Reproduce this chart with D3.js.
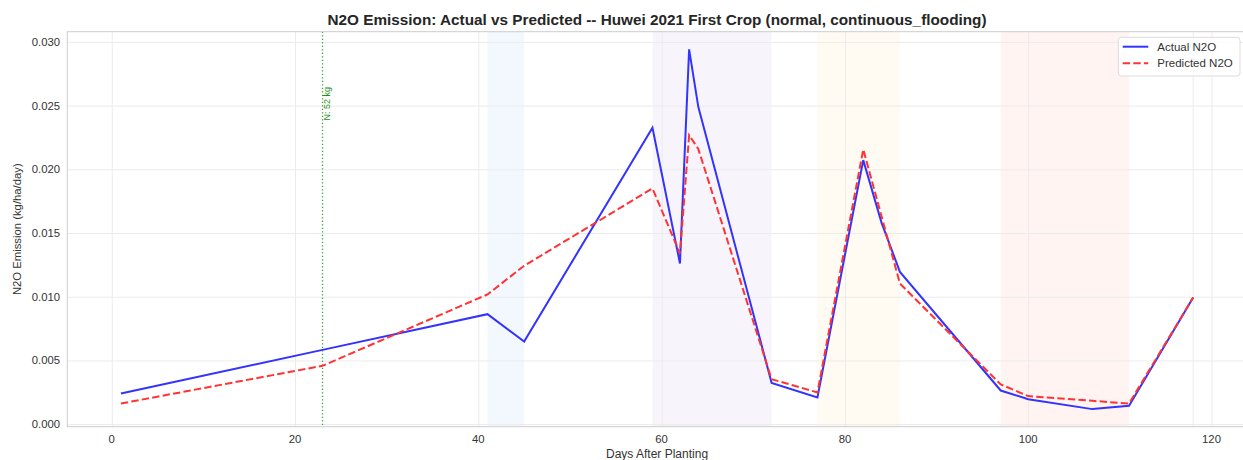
<!DOCTYPE html>
<html>
<head>
<meta charset="utf-8">
<script src="https://cdn.jsdelivr.net/npm/d3@7"></script>
<style>
  body { margin: 0; background: #fff; }
  svg { display: block; font-family: "Liberation Sans", Arial, sans-serif; }
</style>
</head>
<body>
<div id="chart"></div>
<script>
// data
var days      = [1, 23, 41, 45, 59, 62, 63, 64, 72, 77, 82, 84, 86, 97, 100, 107, 111, 118];
var actual    = [0.00241, 0.00583, 0.00863, 0.00649, 0.02326, 0.01261, 0.02941, 0.0249, 0.00324, 0.0021,
                 0.02072, 0.0158, 0.01195, 0.00264, 0.00196, 0.00118, 0.00144, 0.00994];
var predicted = [0.00162, 0.00458, 0.01018, 0.01243, 0.0185, 0.0134, 0.02268, 0.0216, 0.00353, 0.00249,
                 0.02156, 0.0163, 0.01104, 0.00312, 0.0022, 0.00183, 0.00162, 0.00994];
var stageStart = [41, 59, 77, 97];
var stageEnd   = [45, 72, 86, 111];
var stageColor = ["#f2f8fd", "#f7f5fb", "#fffaf2", "#fff4f2"];
var fertDay = 23, fertLabel = "N: 52 kg";
var endDay = 118;
var xTicks = [0, 20, 40, 60, 80, 100, 120];
var yTicks = [0, 0.005, 0.01, 0.015, 0.02, 0.025, 0.03];

var width = 1243, height = 460;
var margin = {top: 31.7, left: 67.3, bottom: 426.7, right: 1246.8};

var x = d3.scaleLinear().domain([-4.85, 123.85]).range([margin.left, margin.right]);
var y = d3.scaleLinear().domain([-0.0002, 0.0308]).range([margin.bottom, margin.top]);

var svg = d3.select("#chart").append("svg")
  .attr("width", width)
  .attr("height", height);

svg.append("defs").append("clipPath").attr("id", "plot")
  .append("rect")
  .attr("x", margin.left).attr("y", margin.top)
  .attr("width", margin.right - margin.left)
  .attr("height", margin.bottom - margin.top);

// shaded growth stages
svg.append("g").selectAll("rect")
  .data(stageStart)
  .enter().append("rect")
  .attr("x", d => x(d))
  .attr("width", (d, i) => x(stageEnd[i]) - x(d))
  .attr("y", margin.top)
  .attr("height", margin.bottom - margin.top)
  .attr("fill", (d, i) => stageColor[i]);

// grid
svg.append("g")
  .attr("transform", `translate(0,${margin.bottom})`)
  .call(d3.axisBottom(x).tickValues(xTicks).tickSize(-(margin.bottom - margin.top)).tickFormat(""))
  .call(g => g.select(".domain").remove())
  .call(g => g.selectAll("line").attr("stroke", "#ebebeb").attr("stroke-width", 1));

svg.append("g")
  .attr("transform", `translate(${margin.left},0)`)
  .call(d3.axisLeft(y).tickValues(yTicks).tickSize(-(margin.right - margin.left)).tickFormat(""))
  .call(g => g.select(".domain").remove())
  .call(g => g.selectAll("line").attr("stroke", "#ebebeb").attr("stroke-width", 1));

// faint line at last sampling day
svg.append("line")
  .attr("x1", x(endDay)).attr("x2", x(endDay))
  .attr("y1", margin.top).attr("y2", margin.bottom)
  .attr("stroke", "#ececec").attr("stroke-width", 1);

// fertilizer line
svg.append("line")
  .attr("x1", x(fertDay)).attr("x2", x(fertDay))
  .attr("y1", margin.top).attr("y2", margin.bottom)
  .attr("stroke", "#33a333")
  .attr("stroke-width", 1.3)
  .attr("stroke-dasharray", "1.3,2.2");

svg.append("text")
  .attr("transform", `translate(${x(fertDay) + 7},87) rotate(-90)`)
  .attr("text-anchor", "end")
  .attr("fill", "#1a8f1a")
  .style("font-size", "9px")
  .text(fertLabel);

// spines
svg.append("rect")
  .attr("x", margin.left).attr("y", margin.top)
  .attr("width", margin.right - margin.left)
  .attr("height", margin.bottom - margin.top)
  .attr("fill", "none")
  .attr("stroke", "#cccccc")
  .attr("stroke-width", 1);

// lines
var line = d3.line().x(d => x(d[0])).y(d => y(d[1]));

var plot = svg.append("g").attr("clip-path", "url(#plot)");

plot.append("path")
  .datum(days.map((d, i) => [d, actual[i]]))
  .attr("d", line)
  .attr("fill", "none")
  .attr("stroke", "#3333ff")
  .attr("stroke-width", 2);

plot.append("path")
  .datum(days.map((d, i) => [d, predicted[i]]))
  .attr("d", line)
  .attr("fill", "none")
  .attr("stroke", "#ff3333")
  .attr("stroke-width", 2)
  .attr("stroke-dasharray", "7.4,3.2");

// tick labels
svg.append("g").selectAll("text")
  .data(xTicks)
  .enter().append("text")
  .attr("x", d => x(d))
  .attr("y", 443)
  .attr("text-anchor", "middle")
  .attr("fill", "#333")
  .style("font-size", "11.3px")
  .text(d => d);

svg.append("g").selectAll("text")
  .data(yTicks)
  .enter().append("text")
  .attr("x", 60)
  .attr("y", d => y(d) + 4)
  .attr("text-anchor", "end")
  .attr("fill", "#333")
  .style("font-size", "11.3px")
  .text(d => d3.format(".3f")(d));

// axis titles
svg.append("text")
  .attr("x", (margin.left + margin.right) / 2)
  .attr("y", 458)
  .attr("text-anchor", "middle")
  .attr("fill", "#333")
  .style("font-size", "12px")
  .text("Days After Planting");

svg.append("text")
  .attr("transform", `translate(21,${(margin.top + margin.bottom) / 2}) rotate(-90)`)
  .attr("text-anchor", "middle")
  .attr("fill", "#333")
  .style("font-size", "11.3px")
  .text("N2O Emission (kg/ha/day)");

svg.append("text")
  .attr("x", (margin.left + margin.right) / 2)
  .attr("y", 25)
  .attr("text-anchor", "middle")
  .attr("fill", "#262626")
  .style("font-size", "15.3px")
  .style("font-weight", "bold")
  .text("N2O Emission: Actual vs Predicted -- Huwei 2021 First Crop (normal, continuous_flooding)");

// legend
var legend = svg.append("g").attr("transform", "translate(1118.3,37.3)");
legend.append("rect")
  .attr("width", 121.7).attr("height", 38.7)
  .attr("rx", 3)
  .attr("fill", "rgba(255,255,255,0.8)")
  .attr("stroke", "#dddddd");

var legendItems = [
  {label: "Actual N2O", color: "#3333ff", dash: null},
  {label: "Predicted N2O", color: "#ff3333", dash: "7.4,3.2"}
];
legendItems.forEach((d, i) => {
  var yy = 9.4 + i * 16.6;
  legend.append("line")
    .attr("x1", 4.4).attr("x2", 30)
    .attr("y1", yy).attr("y2", yy)
    .attr("stroke", d.color)
    .attr("stroke-width", 2)
    .attr("stroke-dasharray", d.dash);
  legend.append("text")
    .attr("x", 39)
    .attr("y", yy + 4)
    .attr("fill", "#333")
    .style("font-size", "11.5px")
    .text(d.label);
});
</script>
</body>
</html>
